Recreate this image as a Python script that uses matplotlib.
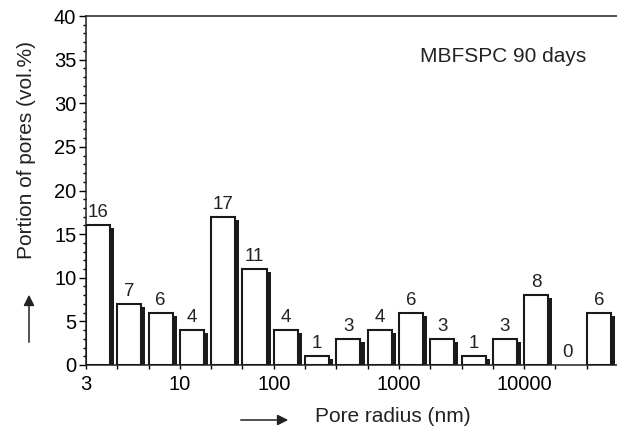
import matplotlib
matplotlib.use('Agg')
import matplotlib.pyplot as plt
from matplotlib.ticker import MultipleLocator

plt.rcParams['font.family'] = ['Liberation Sans', 'DejaVu Sans']

# Data
values = [16, 7, 6, 4, 17, 11, 4, 1, 3, 4, 6, 3, 1, 3, 8, 0, 6]
tick_labels = {0: '3', 3: '10', 6: '100', 10: '1000', 14: '10000'}
sample = 'MBFSPC 90 days'

fig = plt.figure(figsize=(6.17, 4.30), dpi=100)
ax = fig.add_axes([86/617, 65/430, 532/617, 349/430])

pos = list(range(len(values)))
bw = 0.77
dx, dy = 0.13, 0.35
# shadow bars
ax.bar([p + dx for p in pos], [max(v - dy, 0) for v in values], width=bw, align='edge',
       color='#1a1a1a', edgecolor='none', zorder=2)
# white bars
for p, v in zip(pos, values):
    if v > 0:
        ax.bar(p, v, width=bw, align='edge', color='white', edgecolor='#1a1a1a',
               linewidth=1.5, zorder=3)
    ax.text(p + bw / 2, v + 0.45, str(v), ha='center', va='bottom', fontsize=13.5, color='#222222')

ax.set_xlim(0, 17)
ax.set_ylim(0, 40)
ax.set_xticks(range(18))
ax.set_xticklabels([tick_labels.get(i, '') for i in range(18)])
ax.yaxis.set_major_locator(MultipleLocator(5))
ax.yaxis.set_minor_locator(MultipleLocator(1))
ax.tick_params(axis='y', which='major', length=5, width=1, labelsize=14.5, pad=2)
ax.tick_params(axis='y', which='minor', length=2.5, width=1)
ax.tick_params(axis='x', which='major', length=3, width=1, labelsize=14.5, pad=4)
ax.spines['right'].set_visible(False)
for s in ['left', 'bottom', 'top']:
    ax.spines[s].set_linewidth(1.1)
    ax.spines[s].set_color('#222222')

ax.text(420/617, 1 - 56/430, sample, transform=fig.transFigure, fontsize=15,
        ha='left', va='center', color='#222222')
fig.text(27/617, 1 - 150/430, 'Portion of pores (vol.%)', rotation=90, fontsize=15,
         ha='center', va='center', color='#222222')
fig.text(315/617, 1 - 416/430, 'Pore radius (nm)', fontsize=15, ha='left', va='center',
         color='#222222')
fig.add_artist(matplotlib.patches.FancyArrowPatch((29/617, 1 - 345/430), (29/617, 1 - 292/430),
               transform=fig.transFigure, arrowstyle='-|>', mutation_scale=16, color='#222222', lw=1.1))
fig.add_artist(matplotlib.patches.FancyArrowPatch((238/617, 1 - 420/430), (291/617, 1 - 420/430),
               transform=fig.transFigure, arrowstyle='-|>', mutation_scale=16, color='#222222', lw=1.1))

fig.savefig('out.png', dpi=100)
